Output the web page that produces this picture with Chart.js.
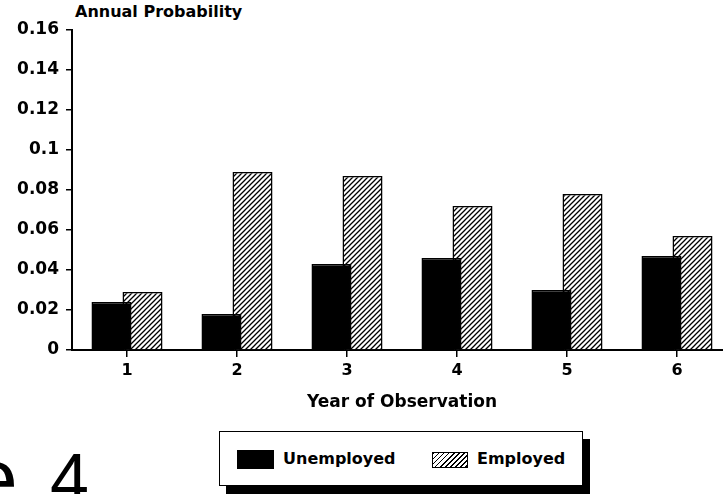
<!DOCTYPE html>
<html>
<head>
<meta charset="utf-8">
<script src="https://cdn.jsdelivr.net/npm/chart.js@4"></script>
<style>
  body { margin: 0; background: #fff; overflow: hidden; width: 723px; height: 494px; position: relative; font-family: "DejaVu Sans", sans-serif; }
  #wrap { position: absolute; left: 0; top: 0; width: 740px; height: 420px; }
  #yTitle { position: absolute; left: 75px; top: 2px; font-weight: bold; font-size: 16px; }
  #legend { position: absolute; left: 219px; top: 431px; width: 362px; height: 53px; border: 1.5px solid #000; box-shadow: 7px 8px 0 #000; background: #fff; }
  .item { position: absolute; top: 16px; font-weight: bold; font-size: 16px; line-height: 22px; white-space: nowrap; }
  .sw { display: inline-block; vertical-align: middle; margin-right: 9px; box-sizing: border-box; }
  .fig { position: absolute; font-family: "Liberation Sans", Arial, sans-serif; color: #000; line-height: 1; }
</style>
</head>
<body>
<div id="yTitle">Annual Probability</div>
<div id="wrap"><canvas id="chart" width="740" height="420"></canvas></div>
<div id="legend"></div>
<div class="fig" style="left:-29px; top:436px; font-size:84px;">e</div>
<div class="fig" style="left:50px; top:444px; font-size:70px;">4</div>
<script>
// data
const years = ['1', '2', '3', '4', '5', '6'];
const unemployed = [0.024, 0.018, 0.043, 0.046, 0.030, 0.047];
const employed = [0.029, 0.089, 0.087, 0.072, 0.078, 0.057];
const seriesNames = ['Unemployed', 'Employed'];
const yTickLabels = ['0', '0.02', '0.04', '0.06', '0.08', '0.1', '0.12', '0.14', '0.16'];

const canvas = document.getElementById('chart');
const ctx = canvas.getContext('2d');

// diagonal hatch for the employed bars
function makeHatch() {
  const t = document.createElement('canvas');
  t.width = 5; t.height = 5;
  const c = t.getContext('2d');
  c.fillStyle = '#fff';
  c.fillRect(0, 0, 5, 5);
  c.strokeStyle = '#000';
  c.lineWidth = 1.3;
  c.beginPath();
  c.moveTo(-1, 6); c.lineTo(6, -1);
  c.moveTo(-3.5, 3.5); c.lineTo(3.5, -3.5);
  c.moveTo(1.5, 8.5); c.lineTo(8.5, 1.5);
  c.stroke();
  return ctx.createPattern(t, 'repeat');
}
const hatch = makeHatch();

const font = { family: '"DejaVu Sans", sans-serif', weight: 'bold', size: 16 };

new Chart(ctx, {
  type: 'bar',
  data: {
    labels: years,
    datasets: [
      { label: seriesNames[0], data: unemployed, backgroundColor: '#000', borderColor: '#000', borderWidth: 1.5 },
      { label: seriesNames[1], data: employed, backgroundColor: hatch, borderColor: '#000', borderWidth: 1.5 }
    ]
  },
  options: {
    responsive: false,
    animation: false,
    events: [],
    categoryPercentage: 0.564,
    barPercentage: 1.29,
    layout: { padding: { top: 30, right: 8, left: 0, bottom: 0 } },
    plugins: { legend: { display: false }, tooltip: { enabled: false } },
    scales: {
      x: {
        offset: true,
        grid: { offset: false, drawOnChartArea: false, color: '#000', lineWidth: 1.5, tickLength: 7 },
        border: { color: '#000', width: 2 },
        ticks: { color: '#000', font: font, padding: 4 },
        title: { display: true, text: 'Year of Observation', color: '#000', font: { ...font, size: 17 }, padding: { top: 4, bottom: 7 } },
        afterFit: s => { s.height = 70; }
      },
      y: {
        min: 0,
        max: 0.16,
        grid: { drawOnChartArea: false, color: '#000', lineWidth: 1.5, tickLength: 6 },
        border: { color: '#000', width: 2 },
        ticks: {
          stepSize: 0.02,
          color: '#000',
          font: { ...font, size: 17 },
          padding: 7,
          callback: (v, i) => yTickLabels[i]
        },
        afterFit: s => { s.width = 72; }
      }
    }
  }
});

// legend box with drop shadow
const legend = document.getElementById('legend');
const swatches = [
  { left: 17, w: 37, h: 19, bg: '#000', border: 'none' },
  { left: 212, w: 36, h: 16, bg: 'repeating-linear-gradient(135deg, #000 0 1.2px, #fff 1.2px 3.6px)', border: '1px solid #000' }
];
seriesNames.forEach((name, i) => {
  const s = swatches[i];
  const d = document.createElement('div');
  d.className = 'item';
  d.style.left = s.left + 'px';
  d.innerHTML = `<span class="sw" style="width:${s.w}px;height:${s.h}px;background:${s.bg};border:${s.border}"></span>${name}`;
  legend.appendChild(d);
});
</script>
</body>
</html>
